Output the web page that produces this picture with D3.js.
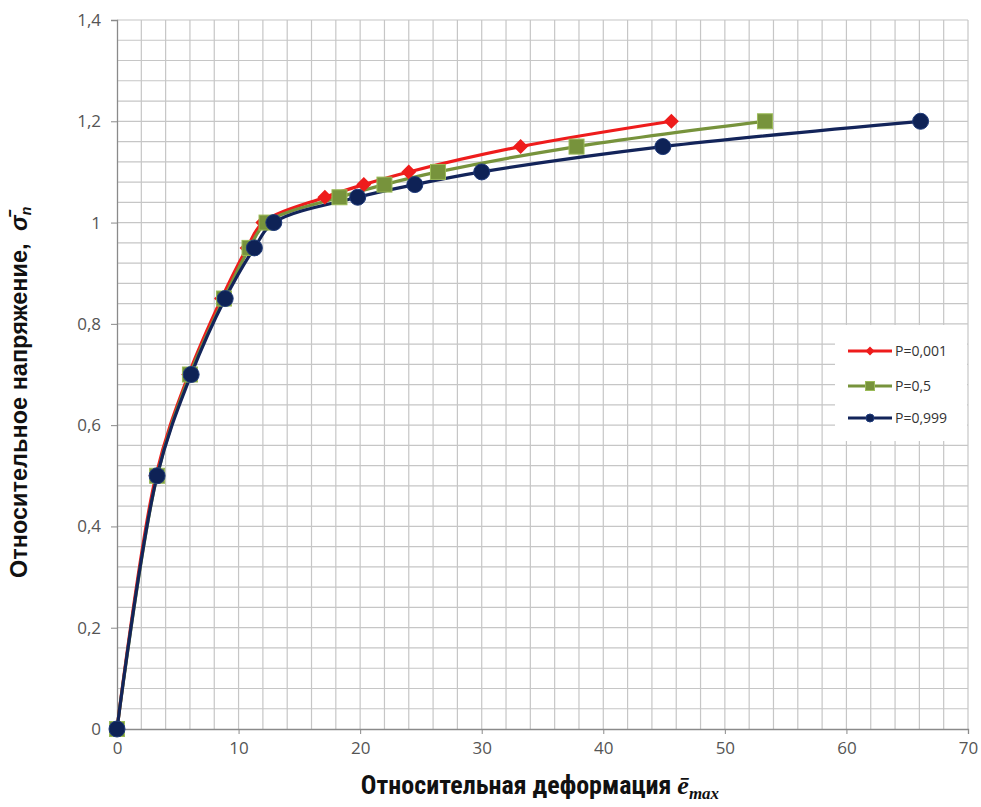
<!DOCTYPE html>
<html><head><meta charset="utf-8">
<script src="https://cdn.jsdelivr.net/npm/d3@7"></script>
<style>body{margin:0;background:#fff}</style>
</head><body>
<svg id="c" width="981" height="807"></svg>
<script>
const seriesNames = ["P=0,001", "P=0,5", "P=0,999"];
const strainP001 = [0, 3.2, 5.9, 8.6, 10.7, 12.0, 17.1, 20.3, 24.0, 33.2, 45.6];
const stressP001 = [0, 0.5, 0.7, 0.85, 0.95, 1.0, 1.05, 1.075, 1.1, 1.15, 1.2];
const strainP05 = [0, 3.3, 6.0, 8.8, 10.9, 12.3, 18.3, 22.0, 26.4, 37.8, 53.3];
const stressP05 = [0, 0.5, 0.7, 0.85, 0.95, 1.0, 1.05, 1.075, 1.1, 1.15, 1.2];
const strainP999 = [0, 3.3, 6.1, 8.9, 11.3, 12.9, 19.8, 24.5, 30.0, 44.9, 66.1];
const stressP999 = [0, 0.5, 0.7, 0.85, 0.95, 1.0, 1.05, 1.075, 1.1, 1.15, 1.2];
const xTicks = [0, 10, 20, 30, 40, 50, 60, 70];
const yTicks = [0, 0.2, 0.4, 0.6, 0.8, 1.0, 1.2, 1.4];
const yTickLabels = ["0", "0,2", "0,4", "0,6", "0,8", "1", "1,2", "1,4"];

const colors = ["#ee1c1c", "#77933c", "#13245a"];
const svg = d3.select("#c");
const L = 117, R = 968, T = 20, B = 729;
const x = d3.scaleLinear().domain([0, 70]).range([L, R]);
const y = d3.scaleLinear().domain([0, 1.4]).range([B, T]);

// grid
const g = svg.append("g");
g.selectAll(".vx").data(d3.range(2, 70.01, 2)).join("line")
  .attr("x1", d => x(d)).attr("x2", d => x(d)).attr("y1", T).attr("y2", B)
  .attr("stroke", "#c6c6c6").attr("stroke-width", 1.2);
g.selectAll(".hy").data(d3.range(1, 36).map(i => i * 0.04)).join("line")
  .attr("y1", d => y(d)).attr("y2", d => y(d)).attr("x1", L).attr("x2", R)
  .attr("stroke", "#c6c6c6").attr("stroke-width", 1.2);

// axes
const xAxis = d3.axisBottom(x).tickValues(xTicks).tickSize(5).tickPadding(8).tickFormat(d3.format("d"));
const yAxis = d3.axisLeft(y).tickValues(yTicks).tickSize(6).tickPadding(10).tickFormat((d, i) => yTickLabels[i]);
const gx = svg.append("g").attr("transform", `translate(0,${B})`).call(xAxis);
const gy = svg.append("g").attr("transform", `translate(${L},0)`).call(yAxis);
[gx, gy].forEach(a => {
  a.select(".domain").attr("stroke", "#8a8a8a").attr("stroke-width", 1.3);
  a.selectAll(".tick line").attr("stroke", "#8a8a8a");
  a.selectAll(".tick text").attr("fill", "#555").attr("font-size", 17)
    .attr("font-family", "'Open Sans', 'DejaVu Sans', sans-serif");
});

// series
const data = [
  d3.zip(strainP001, stressP001),
  d3.zip(strainP05, stressP05),
  d3.zip(strainP999, stressP999)
];
const line = d3.line().x(d => x(d[0])).y(d => y(d[1])).curve(d3.curveCatmullRom.alpha(0.5));
data.forEach((pts, i) => {
  svg.append("path").attr("d", line(pts)).attr("fill", "none")
    .attr("stroke", colors[i]).attr("stroke-width", 3.2);
});
function marker(sel, i, size) {
  if (i === 0) {
    const h = size / 2;
    sel.append("path").attr("d", `M0,${-h}L${h},0L0,${h}L${-h},0Z`).attr("fill", colors[0]);
  } else if (i === 1) {
    sel.append("rect").attr("x", -size / 2).attr("y", -size / 2).attr("width", size).attr("height", size)
      .attr("fill", "#77933c").attr("stroke", "#9bbb59").attr("stroke-width", 1);
  } else {
    sel.append("circle").attr("r", size / 2).attr("fill", "#0e2256").attr("stroke", "#1f3a7a").attr("stroke-width", 1);
  }
}
const msize = [15, 15, 16];
data.forEach((pts, i) => {
  pts.forEach(p => {
    const m = svg.append("g").attr("transform", `translate(${x(p[0])},${y(p[1])})`);
    marker(m, i, msize[i]);
  });
});

// legend
const lg = svg.append("g");
lg.append("rect").attr("x", 835).attr("y", 325).attr("width", 132).attr("height", 116).attr("fill", "#fff");
const lrows = [351, 386, 418];
seriesNames.forEach((n, i) => {
  lg.append("line").attr("x1", 848).attr("x2", 892).attr("y1", lrows[i]).attr("y2", lrows[i])
    .attr("stroke", colors[i]).attr("stroke-width", 3);
  const m = lg.append("g").attr("transform", `translate(870,${lrows[i]})`);
  marker(m, i, [9, 9, 8][i]);
  lg.append("text").attr("x", 895).attr("y", lrows[i] + 5).text(n)
    .attr("font-size", 14).attr("fill", "#333")
    .attr("font-family", "'Open Sans', 'DejaVu Sans', sans-serif");
});

// axis titles
const yt = svg.append("text").attr("transform", "translate(27,578) rotate(-90)")
  .attr("font-weight", "bold").attr("font-size", 23.5)
  .attr("font-family", "'Liberation Sans', Arial, sans-serif").attr("fill", "#111");
yt.append("tspan").text("Относительное напряжение, ");
yt.append("tspan").attr("font-style", "italic").attr("dx", 6).text("σ̄");
yt.append("tspan").attr("font-style", "italic").attr("font-size", 14).attr("dy", 4).text("n");

const xt = svg.append("text").attr("x", 540).attr("y", 794)
  .attr("text-anchor", "middle").attr("font-weight", "bold").attr("font-size", 26)
  .attr("font-family", "'Liberation Sans Narrow', 'Roboto Condensed', 'Liberation Sans', sans-serif")
  .attr("fill", "#111");
xt.append("tspan").text("Относительная деформация ");
xt.append("tspan").attr("font-style", "italic").attr("font-family", "'Liberation Serif', serif").text("ē");
xt.append("tspan").attr("font-style", "italic").attr("font-family", "'Liberation Serif', serif")
  .attr("font-size", 17).attr("dy", 5).text("max");
</script>
</body></html>
